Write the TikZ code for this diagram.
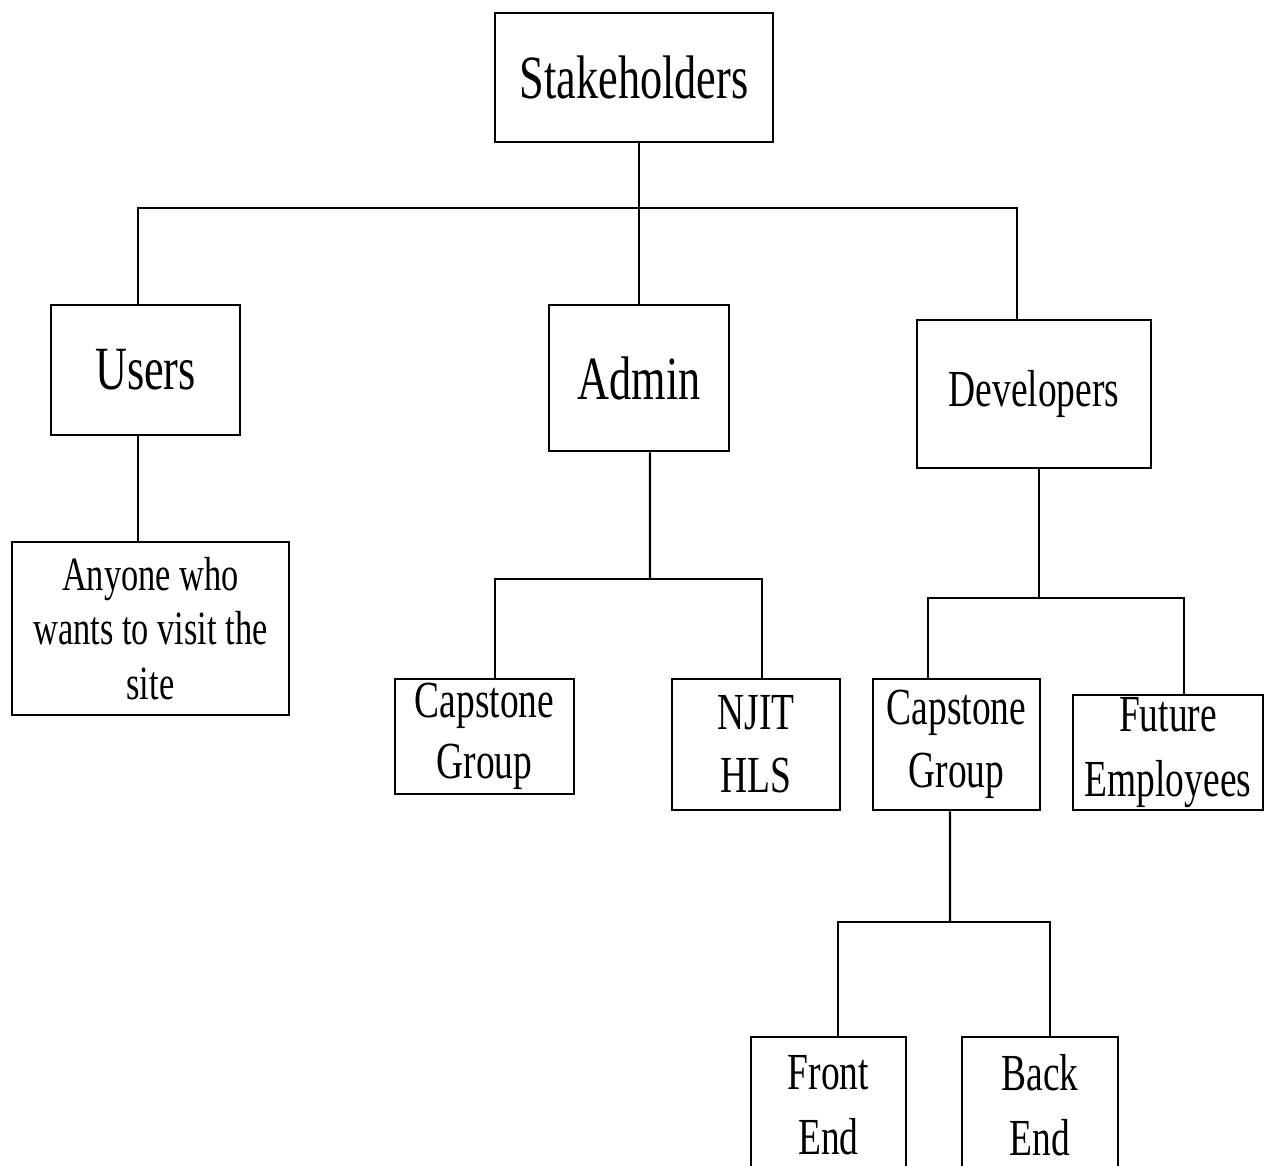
\documentclass[tikz,border=0pt]{standalone}
\usepackage{fontspec}
\setmainfont{Liberation Serif}[FakeStretch=0.72]
\usetikzlibrary{positioning, calc}

\begin{document}
\begin{tikzpicture}[
    box/.style={draw, line width=0.7pt, align=center, inner sep=0pt},
    big/.style={font=\fontsize{17.5}{20}\selectfont},
    mid/.style={font=\fontsize{14.8}{17}\selectfont},
    link/.style={line width=0.7pt}
  ]
  \useasboundingbox (0,0) rectangle (12.7,-11.65);
  % top level
  \node[box, big, minimum width=2.78cm, minimum height=1.29cm] (stake) at (6.34,-0.775) {Stakeholders};
  \node[box, big, minimum width=1.89cm, minimum height=1.30cm] (users) at (1.455,-3.70) {Users};
  \node[box, big, minimum width=1.80cm, minimum height=1.46cm] (admin) at (6.39,-3.78) {Admin};
  \node[box, mid, minimum width=2.34cm, minimum height=1.48cm, text depth=0.12cm] (dev) at (10.34,-3.94) {Developers};
  % second level
  \node[box, font=\fontsize{13.6}{15.6}\selectfont, minimum width=2.77cm, minimum height=1.73cm] (anyone) at (1.505,-6.285) {Anyone who\\wants to visit the\\site};
  \node[box, font=\fontsize{14.8}{17.5}\selectfont, minimum width=1.79cm, minimum height=1.15cm] (capA) at (4.845,-7.365) {Capstone\\Group};
  \node[box, font=\fontsize{14.8}{18}\selectfont, minimum width=1.68cm, minimum height=1.31cm] (njit) at (7.56,-7.445) {NJIT\\HLS};
  \node[box, font=\fontsize{14.8}{18}\selectfont, minimum width=1.67cm, minimum height=1.31cm] (capD) at (9.565,-7.445) {Capstone\\Group};
  \node[box, font=\fontsize{14.8}{18.5}\selectfont, minimum width=1.90cm, minimum height=1.15cm] (future) at (11.68,-7.525) {Future\\Employees};
  % third level
  \node[box, font=\fontsize{14.8}{18.5}\selectfont, minimum width=1.55cm, minimum height=1.36cm] (front) at (8.285,-11.05) {Front\\End};
  \node[box, font=\fontsize{14.8}{18.5}\selectfont, minimum width=1.56cm, minimum height=1.36cm] (back) at (10.40,-11.05) {Back\\End};

  % buses
  \coordinate (topbus) at (6.39,-2.08);
  \coordinate (adminbus) at (6.50,-5.79);
  \coordinate (devbus) at (10.39,-5.98);
  \coordinate (capbus) at (9.50,-9.22);

  % connectors
  \draw[link] ([xshift=0.05cm]stake.south) -- (topbus);
  \draw[link] ([xshift=-0.075cm]users.north) |- (topbus) -| ([xshift=-0.17cm]dev.north);
  \draw[link] (admin.north) -- (topbus);
  \draw[link] ([xshift=-0.075cm]users.south) -- ([xshift=-0.075cm]users.south |- anyone.north);
  \draw[link] ([xshift=0.11cm]admin.south) -- (adminbus);
  \draw[link] ([xshift=0.105cm]capA.north) |- (adminbus) -| ([xshift=0.06cm]njit.north);
  \draw[link] ([xshift=0.05cm]dev.south) -- (devbus);
  \draw[link] ([xshift=-0.285cm]capD.north) |- (devbus) -| ([xshift=0.16cm]future.north);
  \draw[link] ([xshift=-0.065cm]capD.south) -- (capbus);
  \draw[link] ([xshift=0.095cm]front.north) |- (capbus) -| ([xshift=0.10cm]back.north);
\end{tikzpicture}
\end{document}
